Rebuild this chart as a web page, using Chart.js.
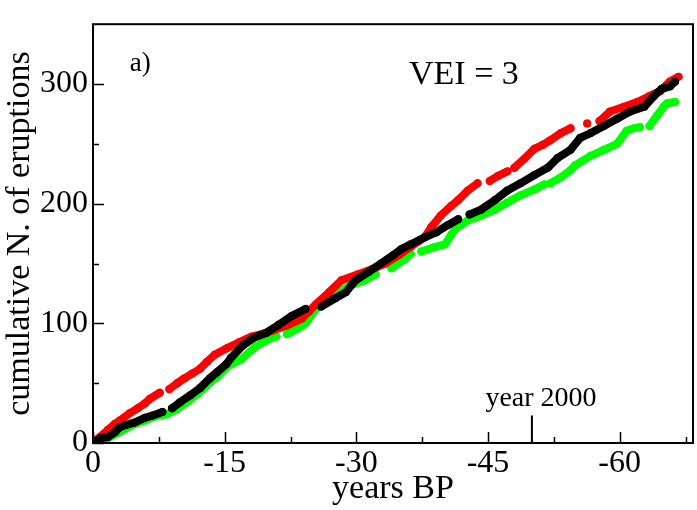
<!DOCTYPE html>
<html>
<head>
<meta charset="utf-8">
<script src="https://cdn.jsdelivr.net/npm/chart.js@4/dist/chart.umd.min.js"></script>
<style>
  body { margin: 0; background: #fff; }
  #wrap { width: 697px; height: 510px; }
</style>
</head>
<body>
<div id="wrap"><canvas id="eruptionChart" width="697" height="510"></canvas></div>
<script>
// cumulative number of VEI=3 eruptions vs years BP (null = gap in the record)
const redYears = [0, -0.8, -1.7, -2.5, -3.1, -4.2, -5.1, -5.9, -6.5, -7.6, null, -8.7, -9.6, -10.4, -11.3, -12.2, -13.0, -13.9, -15.2, -16.6, -18.1, -19.7, -22.0, -23.8, -24.6, -25.4, -26.9, -28.3, -30.2, -31.7, -33.3, -34.8, -36.2, -37.8, -38.5, -39.6, -40.8, -41.6, -42.7, -43.8, null, -45.2, -46.1, -47.2, null, -48.0, -49.2, -50.3, -51.2, -52.1, -53.3, -54.4, null, -56.3, null, -57.7, -58.9, -60.5, -62.0, -63.4, -64.6, -65.7, -66.7];
const redCounts = [1, 5, 11, 16, 19, 25, 29, 33, 37, 42, null, 45, 50, 54, 58, 62, 68, 74, 79, 84, 89, 92, 98, 104, 110, 116, 126, 136, 141, 145, 150, 157, 164, 172, 180, 190, 198, 203, 211, 217, null, 219, 223, 227, null, 230, 238, 246, 249, 253, 259, 263, null, 267, null, 269, 277, 281, 285, 290, 294, 302, 306];

const blackYears = [0, -0.9, -1.7, -2.5, -3.0, -3.7, -4.7, -5.9, -6.8, -7.9, null, -9.0, -9.9, -11.1, -12.2, -13.3, -14.1, -15.2, -15.7, -17.0, -18.3, -19.7, -21.2, -22.6, -24.2, null, -26.0, -27.6, -28.8, -29.9, -31.4, -32.8, -34.2, -35.1, -36.2, -37.8, -39.1, -40.4, -41.6, null, -42.9, -44.2, -45.8, -47.2, -48.7, -50.3, -51.8, -52.9, -54.4, -55.5, -56.7, -58.2, -59.7, -61.2, -62.8, -63.9, -64.8, -65.7, -66.3];
const blackCounts = [0, 4, 5, 9, 13, 15, 17, 21, 23, 26, null, 29, 34, 40, 46, 54, 59, 66, 71, 81, 88, 92, 99, 106, 112, null, 114, 121, 126, 136, 143, 150, 157, 162, 166, 172, 176, 182, 187, null, 191, 195, 203, 211, 217, 224, 230, 238, 245, 255, 259, 265, 271, 277, 281, 290, 296, 298, 302];

const greenYears = [-0.4, -1.7, -3.0, -4.5, -6.0, -7.0, -8.4, -9.5, -10.7, -11.9, -13.4, -14.1, -15.3, -16.9, -18.6, -20.4, -20.9, null, -22.1, -23.4, -24.2, -25.4, -26.5, -27.7, -29.1, -31.0, -32.2, null, -34.0, -35.6, -36.2, null, -37.4, -39.0, -40.1, -40.8, -41.3, -42.7, -44.2, -45.8, -47.2, -48.7, -50.3, -51.4, null, -52.1, -53.3, -54.4, -54.9, -56.7, -58.2, -59.7, -60.8, -61.6, -62.3, null, -63.4, -64.3, -65.0, -65.4, -66.3];
const greenCounts = [0, 4, 9, 15, 19, 22, 24, 28, 34, 41, 51, 55, 64, 70, 81, 88, 89, null, 91, 96, 100, 112, 120, 124, 131, 136, 141, null, 146, 154, 158, null, 160, 164, 166, 174, 179, 186, 190, 195, 201, 207, 212, 216, null, 217, 222, 228, 232, 240, 245, 250, 261, 263, 264, null, 265, 274, 281, 284, 285];

const markYears = [-50, -50];
const markCounts = [0, 23];

const xTicks = [0, -15, -30, -45, -60];
const xMinorTicks = [-7.5, -22.5, -37.5, -52.5, -67.5];
const yTicks = [0, 100, 200, 300];
const yMinorTicks = [50, 150, 250];

const serif = '"Liberation Serif", "Times New Roman", serif';

function toPoints(xs, ys) {
  return xs.map((x, i) => ({ x: x, y: ys[i] }));
}

function series(label, color, xs, ys) {
  return {
    label: label,
    data: toPoints(xs, ys),
    showLine: true,
    spanGaps: false,
    borderColor: color,
    backgroundColor: color,
    borderWidth: 8,
    borderCapStyle: 'round',
    borderJoinStyle: 'round',
    pointRadius: 4,
    pointHoverRadius: 4,
    pointBorderWidth: 0
  };
}

// frame, inward tick marks and text labels
const decorations = {
  id: 'decorations',
  afterDraw(chart) {
    const { ctx, chartArea: a, scales: { x, y } } = chart;
    ctx.save();
    ctx.strokeStyle = '#000';
    ctx.lineWidth = 2;
    ctx.strokeRect(a.left, a.top, a.right - a.left, a.bottom - a.top);

    ctx.lineWidth = 1.5;
    ctx.beginPath();
    xTicks.forEach(v => {
      const px = Math.round(x.getPixelForValue(v)) + 0.5;
      ctx.moveTo(px, a.bottom); ctx.lineTo(px, a.bottom - 11);
    });
    xMinorTicks.forEach(v => {
      const px = Math.round(x.getPixelForValue(v)) + 0.5;
      ctx.moveTo(px, a.bottom); ctx.lineTo(px, a.bottom - 6);
    });
    yTicks.forEach(v => {
      const py = Math.round(y.getPixelForValue(v)) + 0.5;
      ctx.moveTo(a.left, py); ctx.lineTo(a.left + 11, py);
    });
    yMinorTicks.forEach(v => {
      const py = Math.round(y.getPixelForValue(v)) + 0.5;
      ctx.moveTo(a.left, py); ctx.lineTo(a.left + 6, py);
    });
    ctx.stroke();

    ctx.fillStyle = '#000';
    ctx.textBaseline = 'alphabetic';
    ctx.textAlign = 'left';
    ctx.font = '27px ' + serif;
    ctx.fillText('a)', x.getPixelForValue(-4.2), y.getPixelForValue(311));
    ctx.font = '34px ' + serif;
    ctx.fillText('VEI = 3', x.getPixelForValue(-36.0), y.getPixelForValue(300));
    ctx.font = '28px ' + serif;
    ctx.fillText('year 2000', x.getPixelForValue(-44.7), y.getPixelForValue(31));
    ctx.restore();
  }
};

new Chart(document.getElementById('eruptionChart'), {
  type: 'scatter',
  data: {
    datasets: [
      series('black', '#000000', blackYears, blackCounts),
      series('red', '#ff0000', redYears, redCounts),
      series('green', '#00ff00', greenYears, greenCounts),
      {
        label: 'year 2000',
        data: toPoints(markYears, markCounts),
        showLine: true,
        borderColor: '#000',
        borderWidth: 2,
        pointRadius: 0
      }
    ]
  },
  options: {
    responsive: false,
    animation: false,
    events: [],
    layout: { padding: { top: 20, right: 1, left: 0, bottom: 0 } },
    plugins: {
      legend: { display: false },
      tooltip: { enabled: false }
    },
    scales: {
      x: {
        type: 'linear',
        min: -68.35,
        max: 0,
        reverse: true,
        grid: { display: false, drawTicks: false },
        border: { display: false },
        afterBuildTicks: s => { s.ticks = xTicks.map(v => ({ value: v })); },
        afterFit: s => { s.height = 67; },
        ticks: {
          color: '#000',
          padding: 1,
          maxRotation: 0,
          autoSkip: false,
          font: { family: serif, size: 32 },
          callback: v => String(v)
        },
        title: {
          display: true,
          text: 'years BP',
          color: '#000',
          font: { family: serif, size: 34 },
          padding: { top: 0, bottom: 1 }
        }
      },
      y: {
        type: 'linear',
        min: 0,
        max: 350,
        grid: { display: false, drawTicks: false },
        border: { display: false },
        afterBuildTicks: s => { s.ticks = yTicks.map(v => ({ value: v })); },
        afterFit: s => { s.width = 93; },
        ticks: {
          color: '#000',
          padding: 5,
          font: { family: serif, size: 32 },
          callback: v => String(v)
        },
        title: {
          display: true,
          text: 'cumulative N. of eruptions',
          color: '#000',
          font: { family: serif, size: 34 },
          padding: { top: 0, bottom: 0 }
        }
      }
    }
  },
  plugins: [decorations]
});
</script>
</body>
</html>
